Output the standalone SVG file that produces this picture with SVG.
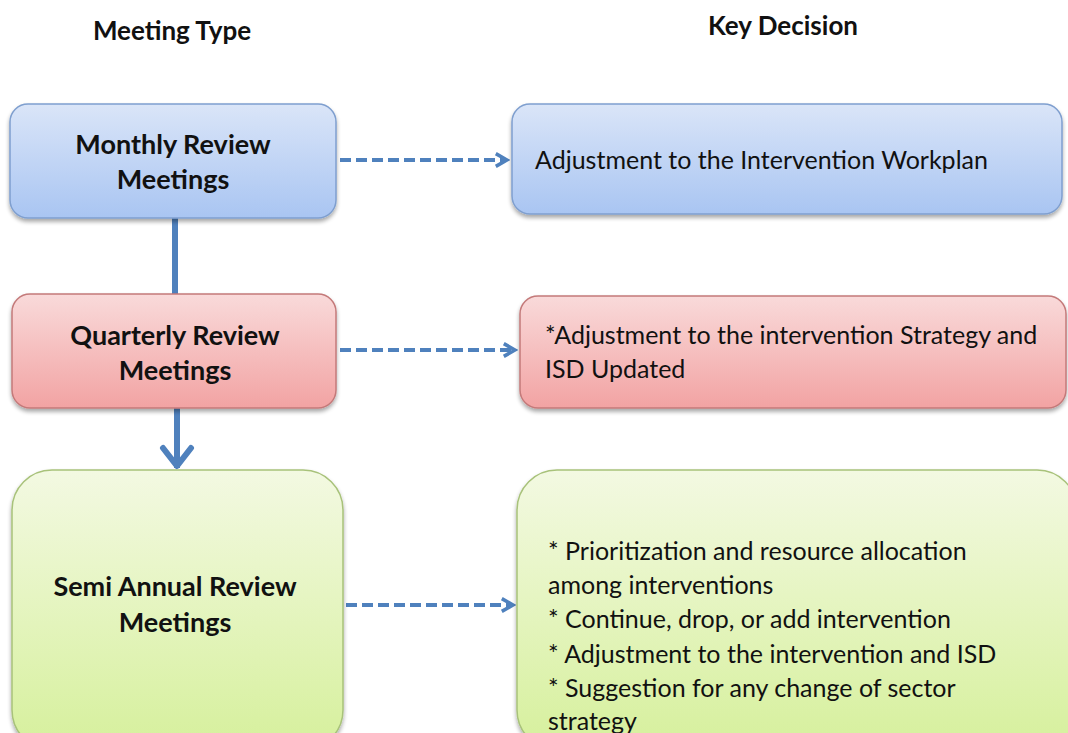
<svg xmlns="http://www.w3.org/2000/svg" width="1068" height="733" viewBox="0 0 1068 733">
  <style>
    .head { font-family: Lato, "Open Sans", "Liberation Sans", sans-serif; font-weight: 700; font-size: 26px; fill: #111; }
    .title { font-family: Lato, "Open Sans", "Liberation Sans", sans-serif; font-weight: 700; font-size: 27px; fill: #111; text-anchor: middle; }
    .body { font-family: Lato, "Open Sans", "Liberation Sans", sans-serif; font-size: 25px; fill: #111; }
    .blue { fill: url(#gBlue); stroke: #7f9fcf; stroke-width: 1.5; filter: url(#shadow); }
    .red { fill: url(#gRed); stroke: #c47a7a; stroke-width: 1.5; filter: url(#shadow); }
    .green { fill: url(#gGreen); stroke: #a8c27a; stroke-width: 1.5; filter: url(#shadow); }
    .dash { stroke: #4f81bd; stroke-width: 4; stroke-dasharray: 11 5; fill: none; marker-end: url(#chev); }
    .solid { stroke: #4f81bd; stroke-width: 6; fill: none; }
  </style>
  <defs>
    <linearGradient id="gBlue" x1="0" y1="0" x2="0" y2="1">
      <stop offset="0" stop-color="#dae5f8"/>
      <stop offset="1" stop-color="#a9c5f2"/>
    </linearGradient>
    <linearGradient id="gRed" x1="0" y1="0" x2="0" y2="1">
      <stop offset="0" stop-color="#f9dada"/>
      <stop offset="1" stop-color="#f2a3a3"/>
    </linearGradient>
    <linearGradient id="gGreen" x1="0" y1="0" x2="0" y2="1">
      <stop offset="0" stop-color="#f3f9e2"/>
      <stop offset="1" stop-color="#d6f09c"/>
    </linearGradient>
    <filter id="shadow" x="-5%" y="-5%" width="110%" height="115%">
      <feGaussianBlur in="SourceAlpha" stdDeviation="2"/>
      <feOffset dx="0" dy="3" result="b"/>
      <feComponentTransfer><feFuncA type="linear" slope="0.35"/></feComponentTransfer>
      <feMerge><feMergeNode/><feMergeNode in="SourceGraphic"/></feMerge>
    </filter>
    <marker id="chev" viewBox="0 0 10 10" refX="8" refY="5" markerWidth="4" markerHeight="4" orient="auto" markerUnits="strokeWidth">
      <path d="M1,1 L8,5 L1,9" fill="none" stroke="#4f81bd" stroke-width="2.2"/>
    </marker>
  </defs>

  <!-- column headings -->
  <text class="head" x="172" y="40" text-anchor="middle">Meeting Type</text>
  <text class="head" x="783" y="35" text-anchor="middle">Key Decision</text>

  <!-- connectors -->
  <g id="connectors">
    <line class="solid" x1="175" y1="218" x2="175" y2="295"/>
    <line class="solid" x1="177" y1="408" x2="177" y2="468"/>
    <path d="M163,448 L177,466 L191,448" fill="none" stroke="#4f81bd" stroke-width="6" stroke-linejoin="round" stroke-linecap="round"/>
    <line class="dash" x1="340" y1="160" x2="507" y2="160"/>
    <line class="dash" x1="340" y1="350" x2="515" y2="350"/>
    <line class="dash" x1="346" y1="605" x2="513" y2="605"/>
  </g>

  <!-- meeting nodes -->
  <g id="monthly">
    <rect class="blue" x="10" y="104" width="326" height="114" rx="18"/>
    <text class="title" x="173" y="154">Monthly Review</text>
    <text class="title" x="173" y="189">Meetings</text>
  </g>
  <g id="quarterly">
    <rect class="red" x="12" y="294" width="324" height="114" rx="18"/>
    <text class="title" x="175" y="345">Quarterly Review</text>
    <text class="title" x="175" y="380">Meetings</text>
  </g>
  <g id="semiannual">
    <rect class="green" x="12" y="470" width="331" height="280" rx="40"/>
    <text class="title" x="175" y="596">Semi Annual Review</text>
    <text class="title" x="175" y="632">Meetings</text>
  </g>

  <!-- decision nodes -->
  <g id="workplan">
    <rect class="blue" x="512" y="104" width="550" height="110" rx="18"/>
    <text class="body" x="535" y="169">Adjustment  to the Intervention  Workplan</text>
  </g>
  <g id="strategy">
    <rect class="red" x="520" y="296" width="546" height="112" rx="18"/>
    <text class="body" x="545" y="344">*Adjustment  to the intervention  Strategy and</text>
    <text class="body" x="545" y="378">ISD Updated</text>
  </g>
  <g id="allocation">
    <rect class="green" x="517" y="470" width="560" height="280" rx="40"/>
    <text class="body" x="548" y="560">* Prioritization  and resource allocation</text>
    <text class="body" x="548" y="594">among interventions</text>
    <text class="body" x="548" y="628">* Continue,  drop, or add intervention</text>
    <text class="body" x="548" y="663">* Adjustment  to the  intervention  and ISD</text>
    <text class="body" x="548" y="697">* Suggestion  for any change  of sector</text>
    <text class="body" x="548" y="730">strategy</text>
  </g>
</svg>
